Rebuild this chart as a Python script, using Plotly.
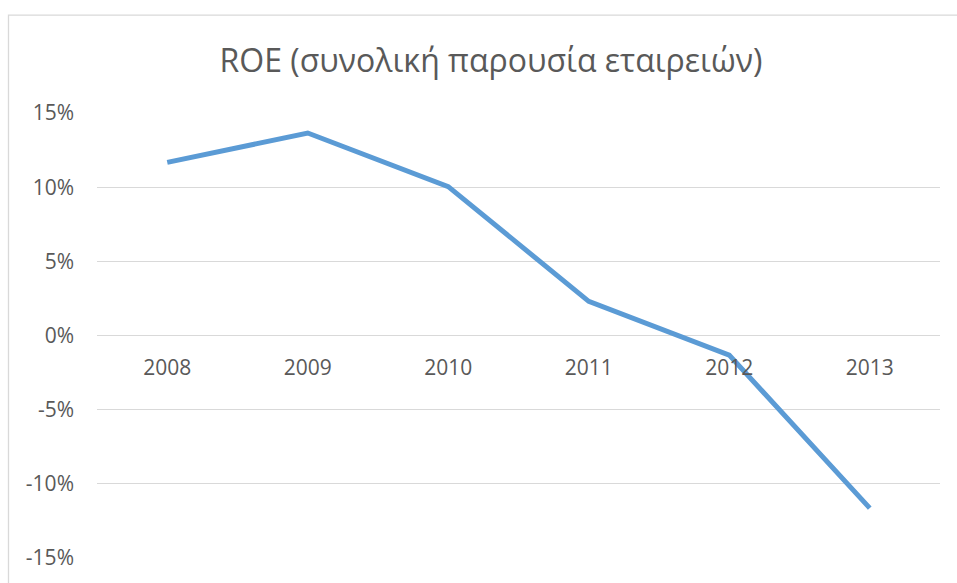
import plotly.graph_objects as go

years = ["2008", "2009", "2010", "2011", "2012", "2013"]
roe = [0.1167, 0.1365, 0.1004, 0.0230, -0.0132, -0.1164]
y_ticks = [-0.15, -0.10, -0.05, 0.0, 0.05, 0.10, 0.15]
y_tick_labels = ["-15%", "-10%", "-5%", "0%", "5%", "10%", "15%"]
title_text = "ROE (συνολική παρουσία εταιρειών)"

W, H = 957, 583
L, R, T, B = 97, 17, 113, 22
pw, ph = W - L - R, H - T - B

def px_to_paper_x(px):
    return (px - L) / pw

def px_to_paper_y(py):
    return (H - B - py) / ph

font_family = "Open Sans, Noto Sans, sans-serif"
grey = "#595959"

fig = go.Figure()
fig.add_trace(go.Scatter(
    x=years, y=roe, mode="lines",
    line=dict(color="#5B9BD5", width=5),
    hoverinfo="skip", showlegend=False,
))

fig.update_layout(
    width=W, height=H,
    margin=dict(l=L, r=R, t=T, b=B, pad=0),
    paper_bgcolor="white", plot_bgcolor="white",
    font=dict(family=font_family, color=grey, size=21),
    title=dict(text=title_text, x=491 / W, xanchor="center",
               y=1 - 61 / H, yanchor="middle",
               font=dict(size=32, color=grey, family=font_family)),
    xaxis=dict(
        type="category", categoryorder="array", categoryarray=years,
        showgrid=False, showline=False, zeroline=False,
        anchor="free", position=0.5,
        ticks="", ticklabelstandoff=17,
        tickfont=dict(size=21, color=grey),
        range=[-0.5, len(years) - 0.5],
    ),
    yaxis=dict(
        range=[-0.15, 0.15],
        tickvals=y_ticks, ticktext=y_tick_labels,
        showgrid=True, gridcolor="#D9D9D9", gridwidth=1,
        zeroline=False, showline=False, ticks="",
        ticklabelstandoff=22,
        tickfont=dict(size=21, color=grey),
    ),
    shapes=[dict(
        type="rect", xref="paper", yref="paper",
        x0=px_to_paper_x(8.5), x1=px_to_paper_x(1000),
        y0=px_to_paper_y(620), y1=px_to_paper_y(14.5),
        line=dict(color="#D9D9D9", width=1.3), fillcolor="rgba(0,0,0,0)",
        layer="below",
    )],
)

fig.write_html(
    "out.html",
    config={"displayModeBar": False},
    post_script="document.body.style.margin='0';document.body.style.overflow='hidden';",
)
